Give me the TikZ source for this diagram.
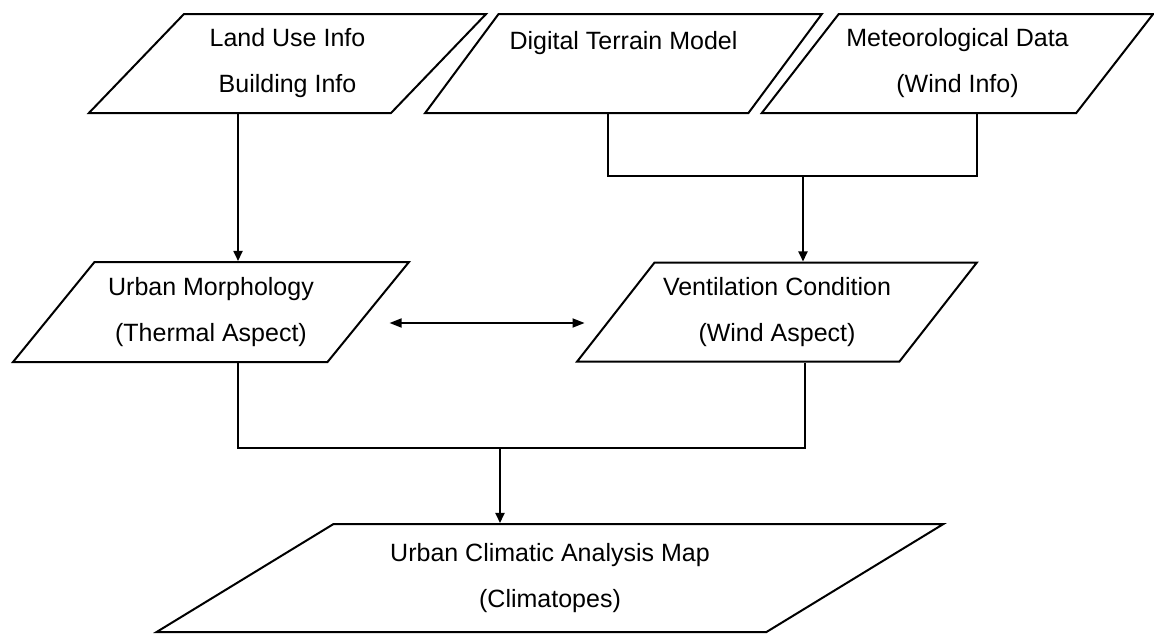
\documentclass[tikz,border=0pt]{standalone}
\usepackage{fontspec}
\setmainfont{Liberation Sans}
\usetikzlibrary{arrows.meta,shapes.geometric}

\begin{document}
\begin{tikzpicture}[
  x=1pt, y=-1pt,
  every node/.style={font=\fontsize{25}{46}\selectfont},
  para/.style={draw, trapezium, trapezium left angle=45, trapezium right angle=135,
    trapezium stretches=true, align=center, inner sep=2pt, line width=2pt, minimum height=99pt},
  conn/.style={line width=1.8pt},
  arr/.style={conn, -{Triangle[length=10pt,width=9pt]}},
  dbl/.style={conn, {Triangle[length=12pt,width=9pt]}-{Triangle[length=12pt,width=9pt]}}
]
\useasboundingbox (0,0) rectangle (1154,633);

% inputs
\node[para, minimum width=399pt] (landuse) at (287.5,63.5) {Land Use Info\\Building Info};
\node[para, minimum width=399pt] (terrain) at (623.5,63.5) {Digital Terrain Model\\ \mbox{}};
\node[para, minimum width=393pt] (meteo) at (957.5,63.5) {Meteorological Data\\(Wind Info)};

% aspects
\node[para, minimum width=398pt, minimum height=100pt] (morph) at (211,312) {Urban Morphology\\(Thermal Aspect)};
\node[para, minimum width=400pt] (vent) at (777,312) {Ventilation Condition\\(Wind Aspect)};

% result
\node[para, minimum width=790pt, minimum height=108pt, trapezium left angle=29, trapezium right angle=151]
  (climmap) at (550,578) {Urban Climatic Analysis Map\\(Climatopes)};

\coordinate (wjoin) at (803,176);
\coordinate (mjoin) at (500,448);

\draw[arr] ([xshift=-49.5pt]landuse.south) -- ([xshift=-49.5pt]landuse.south |- morph.north);
\draw[conn] ([xshift=-15.5pt]terrain.south) |- (wjoin) -| ([xshift=19.5pt]meteo.south);
\draw[arr] (wjoin) -- (wjoin |- vent.north);
\draw[dbl] ([shift={(20pt,-11pt)}]morph.east) -- ([shift={(-30pt,-11pt)}]vent.west);
\draw[conn] ([xshift=27pt]morph.south) |- (mjoin) -| ([xshift=28pt]vent.south);
\draw[arr] (mjoin) -- (mjoin |- climmap.north);
\end{tikzpicture}
\end{document}
